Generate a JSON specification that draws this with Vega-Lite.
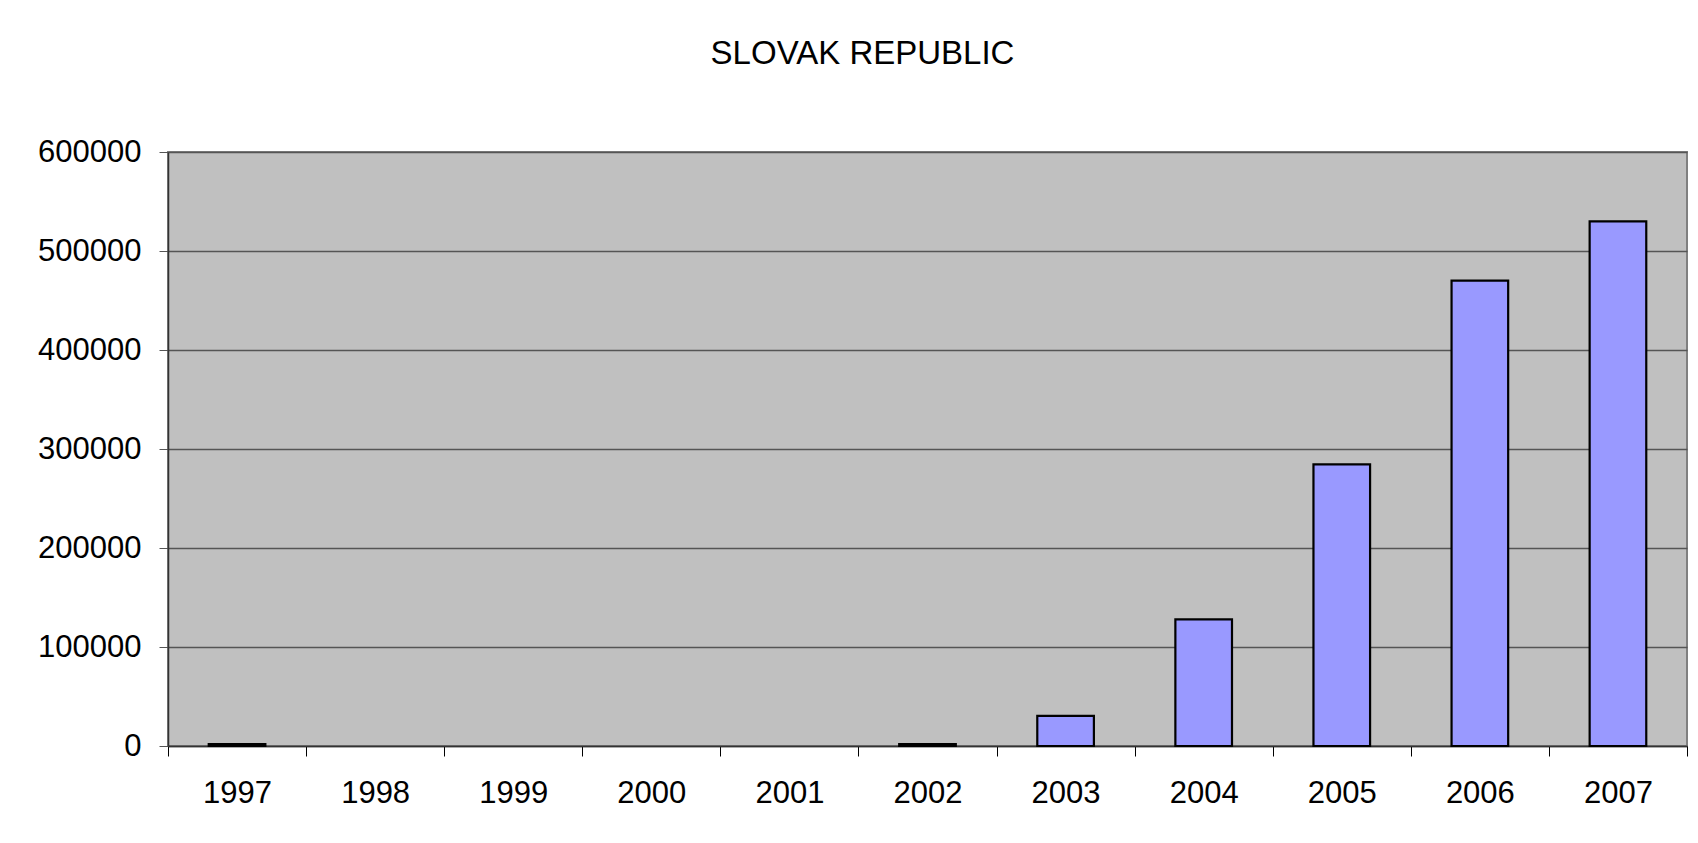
{
  "$schema": "https://vega.github.io/schema/vega-lite/v6.json",
  "autosize": {"type": "fit", "contains": "padding"},
  "width": 1698,
  "height": 843,
  "padding": {"left": 37, "right": 10, "top": 38, "bottom": 35},
  "background": "white",
  "title": {
    "text": "SLOVAK REPUBLIC",
    "font": "Liberation Sans",
    "fontSize": 33,
    "fontWeight": "normal",
    "color": "black",
    "frame": "bounds",
    "anchor": "middle",
    "offset": 65
  },
  "data": {
    "values": [
      {"year": "1997", "value": 2000},
      {"year": "2002", "value": 2000},
      {"year": "2003", "value": 30500},
      {"year": "2004", "value": 128000},
      {"year": "2005", "value": 284500},
      {"year": "2006", "value": 470000},
      {"year": "2007", "value": 530000}
    ]
  },
  "mark": {"type": "bar", "fill": "#9999ff", "stroke": "black", "strokeWidth": 2.2, "width": {"band": 0.41}},
  "encoding": {
    "x": {
      "field": "year",
      "type": "nominal",
      "sort": null,
      "scale": {
        "domain": ["1997", "1998", "1999", "2000", "2001", "2002", "2003", "2004", "2005", "2006", "2007"],
        "paddingInner": 0,
        "paddingOuter": 0
      },
      "axis": {
        "title": null,
        "labelAngle": 0,
        "tickBand": "extent",
        "grid": false,
        "labelFont": "Liberation Sans",
        "labelFontSize": 31,
        "labelColor": "black",
        "tickColor": "black",
        "tickSize": 10,
        "tickWidth": 1,
        "domainColor": "#333333",
        "domainWidth": 1.5,
        "labelPadding": 22
      }
    },
    "y": {
      "field": "value",
      "type": "quantitative",
      "scale": {"domain": [0, 600000], "nice": false},
      "axis": {
        "title": null,
        "values": [0, 100000, 200000, 300000, 400000, 500000, 600000],
        "format": "d",
        "labelFont": "Liberation Sans",
        "labelFontSize": 31,
        "labelColor": "black",
        "tickColor": "#555555",
        "tickSize": 9,
        "labelPadding": 18,
        "grid": true,
        "gridColor": "#555555",
        "gridWidth": 1.3,
        "gridOpacity": 1,
        "domainColor": "#333333",
        "domainWidth": 1.5
      }
    }
  },
  "config": {
    "view": {"fill": "#c0c0c0", "stroke": "#808080", "strokeWidth": 2}
  }
}
